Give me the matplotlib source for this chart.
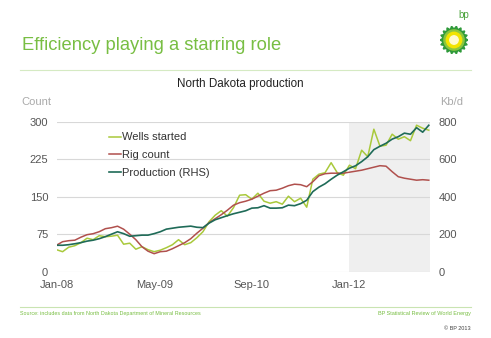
import matplotlib
matplotlib.use("Agg")
import matplotlib.pyplot as plt
import numpy as np
from matplotlib.patches import Polygon, Circle, Rectangle

# monthly data, Jan-08 .. Feb-13
wells_started = [44, 40, 49, 52, 58, 67, 64, 72, 70, 71, 73, 55, 57, 45, 50, 44,
                 40, 43, 48, 54, 64, 54, 58, 68, 80, 100, 113, 122, 111, 128, 153, 154,
                 145, 157, 141, 137, 140, 135, 151, 140, 147, 129, 185, 195, 198, 218,
                 198, 193, 213, 206, 243, 230, 285, 251, 253, 275, 265, 270, 262, 293,
                 287, 283]
rig_count = [53, 60, 62, 63, 69, 74, 76, 80, 86, 88, 91, 85, 75, 64, 50, 41,
             36, 40, 41, 46, 52, 58, 66, 77, 87, 98, 106, 114, 123, 133, 138, 141,
             145, 151, 157, 162, 163, 167, 172, 175, 174, 170, 180, 192, 196, 197,
             197, 197, 199, 201, 203, 206, 209, 212, 211, 200, 190, 187, 185, 183,
             184, 183]
production_kbd = [141, 141, 144, 149, 155, 163, 168, 176, 187, 200, 213, 203, 189, 192, 195, 195,
                  203, 213, 227, 232, 237, 240, 243, 237, 235, 259, 277, 288, 299, 309, 317, 325,
                  339, 341, 352, 339, 339, 341, 355, 352, 363, 381, 427, 451, 469, 493,
                  515, 533, 552, 565, 587, 613, 651, 669, 685, 707, 720, 739, 733, 768,
                  744, 781]
tick_months = [0, 16, 32, 48]
tick_labels = ["Jan-08", "May-09", "Sep-10", "Jan-12"]
shade_start = 48

months = np.arange(len(rig_count))

W, H = 491, 338
fig = plt.figure(figsize=(W / 100, H / 100), dpi=100)
fig.patch.set_facecolor("white")
plt.rcParams["font.family"] = ["Liberation Sans", "DejaVu Sans"]

GREEN_TXT = "#78be43"
WELLS = "#a9c93b"
RIG = "#b0504d"
PROD = "#1f6b58"
GRAY = "#555555"


def fx(px):
    return px / W


def fy(py):
    return 1 - py / H


# header
fig.text(fx(22), fy(46), "Efficiency playing a starring role", color=GREEN_TXT,
         fontsize=13.2, va="center", ha="left")
fig.add_artist(plt.Line2D([fx(20), fx(471)], [fy(70), fy(70)], color="#d5eac3", lw=0.8))
fig.add_artist(plt.Line2D([fx(20), fx(471)], [fy(307), fy(307)], color="#c9e4b2", lw=0.8))
fig.text(fx(20), fy(314), "Source: includes data from North Dakota Department of Mineral Resources",
         color=GREEN_TXT, fontsize=3.9, va="center", ha="left")
fig.text(fx(471), fy(314), "BP Statistical Review of World Energy",
         color=GREEN_TXT, fontsize=4.0, va="center", ha="right")
fig.text(fx(471), fy(329), "\u00a9 BP 2013", color="#444444", fontsize=4.0, va="center", ha="right")

# bp logo
fig.text(fx(464), fy(15), "bp", color="#4ba33c", fontsize=7, va="center", ha="center")
lax = fig.add_axes([fx(440), fy(54), 28 / W, 28 / H])
lax.set_xlim(-1, 1)
lax.set_ylim(-1, 1)
lax.set_aspect("equal")
lax.axis("off")
n = 18
ang = np.linspace(0, 2 * np.pi, 2 * n, endpoint=False)
r = np.where(np.arange(2 * n) % 2 == 0, 1.0, 0.78)
lax.add_patch(Polygon(np.c_[r * np.cos(ang), r * np.sin(ang)], color="#2f9a3a"))
lax.add_patch(Circle((0, 0), 0.72, color="#8cc63f"))
lax.add_patch(Circle((0, 0), 0.55, color="#f2e400"))
lax.add_patch(Circle((0, 0), 0.3, color="#fffbd0"))

# chart
ax = fig.add_axes([fx(56.5), fy(271.7), 373.5 / W, 150 / H])
ax.set_xlim(0, 61.2)
ax.set_ylim(0, 300)
ax.add_patch(Rectangle((shade_start, 0), 61.2 - shade_start, 300, color="#efefef",
                       zorder=0, lw=0))
for v in [0, 75, 150, 225, 300]:
    ax.axhline(v, color="#d8d8d8", lw=0.8, zorder=1)

ax2 = ax.twinx()
ax2.set_ylim(0, 800)

ax.plot(months, wells_started, color=WELLS, lw=1.1, zorder=3, label="Wells started")
ax.plot(months, rig_count, color=RIG, lw=1.1, zorder=3, label="Rig count")
ax2.plot(months, production_kbd, color=PROD, lw=1.2, zorder=4)
ax.plot([], [], color=PROD, lw=1.2, label="Production (RHS)")

for a in (ax, ax2):
    for s in a.spines.values():
        s.set_visible(False)
ax.set_yticks([0, 75, 150, 225, 300])
ax2.set_yticks([0, 200, 400, 600, 800])
ax.set_xticks(tick_months)
ax.set_xticklabels(tick_labels)
ax.tick_params(axis="y", length=0, pad=6, labelsize=8, labelcolor=GRAY)
ax.tick_params(axis="x", length=0, pad=6, labelsize=8, labelcolor=GRAY)
ax2.tick_params(axis="y", length=0, pad=6, labelsize=8, labelcolor=GRAY)

leg = ax.legend(loc="upper left", bbox_to_anchor=((105 - 56.5) / 373.5, (271.7 - 128) / 150),
                frameon=False, fontsize=8, handlelength=1.0, handletextpad=0.15,
                labelspacing=0.7, borderaxespad=0)
for t in leg.get_texts():
    t.set_color("#333333")

fig.text(fx(240), fy(84), "North Dakota production", color="#222222", fontsize=8.4,
         va="center", ha="center")
fig.text(fx(36), fy(102), "Count", color="#aaaaaa", fontsize=8, va="center", ha="center")
fig.text(fx(452), fy(102), "Kb/d", color="#aaaaaa", fontsize=8, va="center", ha="center")

fig.savefig("out.png", dpi=100)
